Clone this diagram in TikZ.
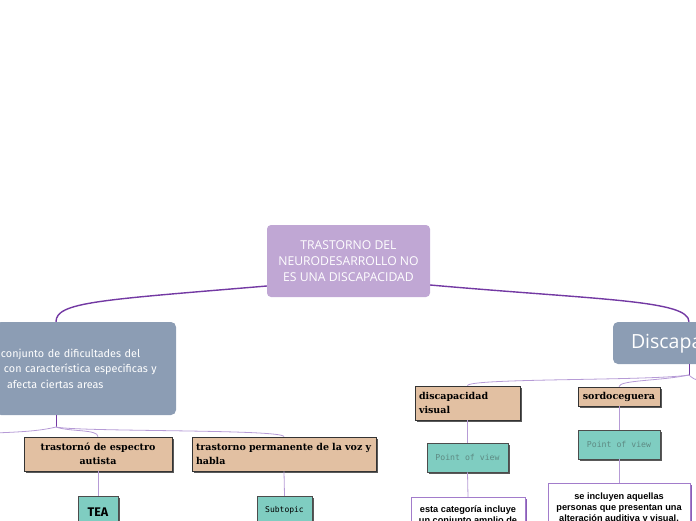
\documentclass[tikz,border=0pt]{standalone}
\usepackage{fontspec}
\setmainfont{Open Sans}
\newfontfamily\fira{Fira Sans}
\newfontfamily\slab{DejaVu Serif}
\newfontfamily\mono{DejaVu Sans Mono}
\newfontfamily\arial{Liberation Sans}
\usetikzlibrary{shadows,calc}
\definecolor{rootc}{HTML}{C0A7D4}
\definecolor{mainc}{HTML}{8C9DB4}
\definecolor{tanc}{HTML}{E2C0A2}
\definecolor{tealc}{HTML}{7FCDC1}
\definecolor{linkd}{HTML}{7339A3}
\definecolor{linkl}{HTML}{B69BD6}
\definecolor{wbord}{HTML}{A27CCB}
\definecolor{wshad}{HTML}{8A5DB8}
\definecolor{povtext}{HTML}{5E8A83}
\tikzset{
  rootbox/.style={fill=rootc, rounded corners=4pt, text=white, align=center, inner sep=0pt,
    font=\fontsize{12.2}{16}\selectfont},
  mainbox/.style={fill=mainc, rounded corners=5pt, text=white, inner sep=0pt},
  tanbox/.style={fill=tanc, draw=black!80, line width=0.6pt, inner sep=0pt,
    drop shadow={shadow xshift=1.6pt, shadow yshift=-1.6pt, fill=black!65, opacity=1},
    font=\slab\bfseries\fontsize{9.5}{13.5}\selectfont},
  tealbox/.style={fill=tealc, draw=black!70, line width=0.5pt, inner sep=0pt,
    drop shadow={shadow xshift=1.6pt, shadow yshift=-1.6pt, fill=black!65, opacity=1}},
  whitebox/.style={fill=white, draw=wbord, line width=0.8pt, inner xsep=0pt, inner ysep=9pt,
    drop shadow={shadow xshift=1.6pt, shadow yshift=-1.6pt, fill=wshad, opacity=1},
    font=\arial\bfseries\fontsize{9.2}{11}\selectfont, align=center},
  mainlink/.style={draw=linkd, line width=1.4pt},
  stemlink/.style={draw=linkd, line width=0.9pt},
  sublink/.style={draw=linkl, line width=0.8pt},
}
\begin{document}
\begin{tikzpicture}[x=1pt,y=-1pt]
\useasboundingbox (0,0) rectangle (696,520);
\clip (0,0) rectangle (696,520);

% central topic
\node[rootbox, minimum width=163pt, minimum height=72pt] (root) at (348.5,261)
  {TRASTORNO DEL\\NEURODESARROLLO NO\\ES UNA DISCAPACIDAD};

% main topics
\node[mainbox, minimum width=180pt, minimum height=93pt, text width=170pt, align=left,
  font=\fira\fontsize{10.8}{15.5}\selectfont] (lt) at (86,368.5)
  {conjunto de dificultades del\\\hspace*{3pt}con característica especificas y\\\hspace*{6pt}afecta ciertas areas};
\node[mainbox, minimum width=156pt, minimum height=42pt, text width=120pt, align=left,
  font=\fontsize{19.5}{22}\selectfont] (rt) at (691,343) {Discapacidad};

% subtopics left
\node[tanbox, minimum width=148pt, minimum height=34pt, align=center] (a) at (98,454)
  {trastornó de espectro\\autista};
\node[tanbox, minimum width=184pt, minimum height=34pt, text width=176pt, align=left] (b) at (284,454)
  {trastorno permanente de la voz y\\habla};
\node[tealbox, minimum width=40pt, minimum height=32pt, font=\fira\bfseries\fontsize{12.5}{14}\selectfont] (tea) at (98,512) {TEA};
\node[tealbox, minimum width=55pt, minimum height=28pt, font=\mono\fontsize{8}{10}\selectfont] (sub) at (284.5,510) {Subtopic};

% subtopics right
\node[tanbox, minimum width=105pt, minimum height=34pt, text width=97pt, align=left] (c) at (467.5,403)
  {discapacidad\\visual};
\node[tanbox, minimum width=82pt, minimum height=19pt] (d) at (619,396.5) {sordoceguera};
\node[tealbox, minimum width=81pt, minimum height=29pt, text=povtext, font=\mono\fontsize{8.2}{10}\selectfont] (pv1) at (467.5,457.5) {Point of view};
\node[tealbox, minimum width=82pt, minimum height=29pt, text=povtext, font=\mono\fontsize{8.2}{10}\selectfont] (pv2) at (619,444.5) {Point of view};
\node[whitebox, anchor=north, minimum width=114pt, text depth=30pt, inner ysep=8pt] (w1) at (468,497)
  {esta categoría incluye\\un conjunto amplio de};
\node[whitebox, anchor=north, minimum width=142pt, text depth=30pt] (w2) at (619,483)
  {se incluyen aquellas\\personas que presentan una\\alteración auditiva y visual.};

% junction coordinates
\coordinate (lj) at (56,427);
\coordinate (loff) at (-6,433);
\coordinate (rj) at (689,375);
\coordinate (roff) at (702,381);

% main connectors
\draw[mainlink] ([yshift=-25pt]root.west) .. controls (100,300) and (56,302) .. ([xshift=-30pt]lt.north);
\draw[mainlink] ([yshift=-24pt]root.east) .. controls (600,300) and (689,300) .. ([xshift=-2pt]rt.north);

% left branches
\draw[stemlink] ([xshift=-30pt]lt.south) -- (lj);
\draw[sublink] (lj) .. controls (40,431) and (20,432) .. (loff);
\draw[sublink] (lj) .. controls (70,432) and (98,429) .. (a.north);
\draw[sublink] (lj) .. controls (80,432) and (284,429) .. (b.north);
\draw[sublink] (a.south) -- (tea.north);
\draw[sublink] (b.south) -- (sub.north);

% right branches
\draw[stemlink] ([xshift=-2pt]rt.south) -- (rj);
\draw[sublink] (rj) .. controls (650,381) and (467.5,378) .. (c.north);
\draw[sublink] (rj) .. controls (660,381) and (619,380) .. (d.north);
\draw[sublink] (rj) .. controls (692,378) and (695,380) .. (roff);
\draw[sublink] (c.south) -- (pv1.north);
\draw[sublink] (pv1.south) -- (w1.north);
\draw[sublink] (d.south) -- (pv2.north);
\draw[sublink] (pv2.south) -- (w2.north);
\end{tikzpicture}
\end{document}
